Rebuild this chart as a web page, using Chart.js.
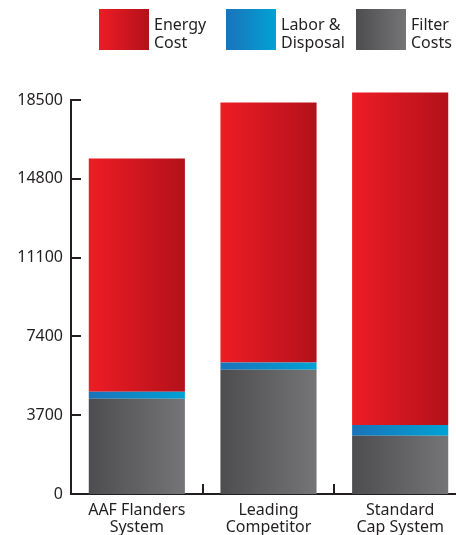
<!DOCTYPE html>
<html>
<head>
<meta charset="utf-8">
<script src="https://cdn.jsdelivr.net/npm/chart.js@4.4.0/dist/chart.umd.min.js"></script>
<style>
  html, body { margin: 0; padding: 0; background: #ffffff; overflow: hidden; }
  #wrap { width: 456px; height: 535px; position: relative; overflow: hidden; }
  #c { position: absolute; left: 0; top: 0; }
</style>
</head>
<body>
<div id="wrap"><canvas id="c" width="466" height="535"></canvas></div>
<script>
const categories = [["AAF Flanders", "System"], ["Leading", "Competitor"], ["Standard", "Cap System"]];
const filterCosts = [4470, 5830, 2730];
const laborDisposal = [330, 340, 515];
const energyCost = [10950, 12210, 15605];
const yTicks = [0, 3700, 7400, 11100, 14800, 18500];
const seriesLabels = [["Filter", "Costs"], ["Labor &", "Disposal"], ["Energy", "Cost"]];

const BAR_PCT = 0.73;
const INK = '#231F20';
const FONT = '"Noto Sans", "DejaVu Sans", sans-serif';

const gradStops = [
  ['#4D4D4F', '#757577'],
  ['#1B73BA', '#00A2D4'],
  ['#EE1C25', '#B3111A']
];

function barGradient(ctx, stops) {
  const chart = ctx.chart;
  const x = chart.scales.x;
  if (!x || !chart.chartArea) return stops[0];
  const c = x.getPixelForValue(ctx.dataIndex);
  const step = x.getPixelForValue(1) - x.getPixelForValue(0);
  const w = step * BAR_PCT;
  if (!isFinite(c) || !isFinite(w) || w <= 0) return stops[0];
  const g = chart.ctx.createLinearGradient(c - w / 2, 0, c + w / 2, 0);
  g.addColorStop(0, stops[0]);
  g.addColorStop(1, stops[1]);
  return g;
}

const series = [filterCosts, laborDisposal, energyCost];
const datasets = series.map((vals, i) => ({
  label: seriesLabels[i].join(' '),
  legendLines: seriesLabels[i],
  data: vals,
  backgroundColor: (ctx) => barGradient(ctx, gradStops[i]),
  borderWidth: 0,
  barPercentage: BAR_PCT,
  categoryPercentage: 1,
  clip: false
}));

const customAxes = {
  id: 'customAxes',
  afterDraw(chart) {
    const ctx = chart.ctx;
    const y = chart.scales.y, x = chart.scales.x;
    const left = chart.chartArea.left, bottom = chart.chartArea.bottom;
    ctx.save();
    ctx.strokeStyle = INK;
    ctx.lineWidth = 2;
    yTicks.forEach(v => {
      if (v === 0) return;
      const py = Math.round(y.getPixelForValue(v));
      ctx.beginPath();
      ctx.moveTo(left, py);
      ctx.lineTo(left + 10, py);
      ctx.stroke();
    });
    for (let i = 0; i < categories.length - 1; i++) {
      const px = Math.round((x.getPixelForValue(i) + x.getPixelForValue(i + 1)) / 2);
      ctx.beginPath();
      ctx.moveTo(px, bottom);
      ctx.lineTo(px, bottom - 10);
      ctx.stroke();
    }
    ctx.restore();
  }
};

const customLegend = {
  id: 'customLegend',
  afterDraw(chart, args, opts) {
    const ctx = chart.ctx;
    const order = [2, 1, 0];
    ctx.save();
    ctx.font = '16px ' + FONT;
    ctx.textBaseline = 'alphabetic';
    ctx.textAlign = 'left';
    order.forEach((di, k) => {
      const ds = chart.data.datasets[di];
      const bx = opts.starts[k];
      const g = ctx.createLinearGradient(bx, 0, bx + opts.boxW, 0);
      g.addColorStop(0, gradStops[di][0]);
      g.addColorStop(1, gradStops[di][1]);
      ctx.fillStyle = g;
      ctx.fillRect(bx, opts.boxY, opts.boxW, opts.boxH);
      ctx.fillStyle = INK;
      ds.legendLines.forEach((line, li) => {
        ctx.fillText(line, bx + opts.boxW + 5, opts.textY + li * opts.lineH);
      });
    });
    ctx.restore();
  }
};

new Chart(document.getElementById('c'), {
  type: 'bar',
  data: { labels: categories, datasets },
  options: {
    responsive: false,
    animation: false,
    devicePixelRatio: 1,
    layout: { padding: { top: 100, right: 0, left: 0, bottom: 0 } },
    plugins: {
      legend: { display: false },
      tooltip: { enabled: false },
      customLegend: { starts: [99, 226, 356], boxW: 50, boxH: 41, boxY: 9, textY: 30, lineH: 18 }
    },
    scales: {
      x: {
        stacked: true,
        grid: { display: false, drawTicks: false },
        border: { display: true, color: INK, width: 2 },
        ticks: { color: INK, font: { family: FONT, size: 16, lineHeight: 1.05 }, padding: 8, maxRotation: 0, autoSkip: false },
        afterFit(scale) { scale.height = 41; }
      },
      y: {
        stacked: true,
        min: 0,
        max: 18500,
        afterBuildTicks(scale) { scale.ticks = yTicks.map(v => ({ value: v })); },
        grid: { display: false, drawTicks: false },
        border: { display: true, color: INK, width: 2 },
        ticks: { color: INK, font: { family: FONT, size: 16 }, padding: 8, callback: (v) => String(v) },
        afterFit(scale) { scale.width = 71; }
      }
    }
  },
  plugins: [customAxes, customLegend]
});
</script>
</body>
</html>
